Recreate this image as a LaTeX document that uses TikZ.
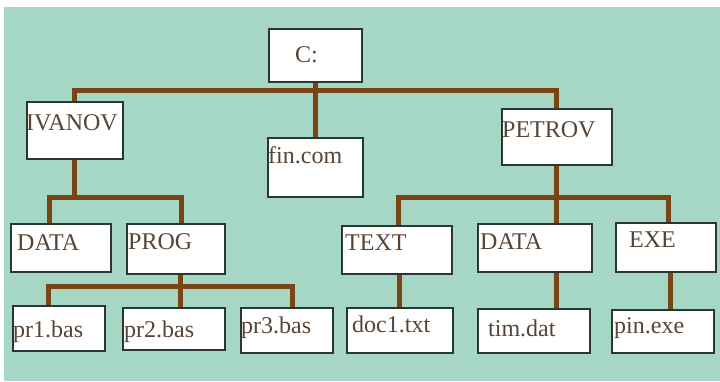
\documentclass[tikz,border=0pt]{standalone}
\usepackage{fontspec}
\setmainfont{Liberation Serif}
\definecolor{bgteal}{RGB}{166,215,197}
\definecolor{linebrown}{RGB}{122,68,20}
\definecolor{boxedge}{RGB}{40,55,50}
\definecolor{txtbrown}{RGB}{88,68,52}
\tikzset{
  box/.style={draw=boxedge, line width=1.8pt, fill=white, rectangle, anchor=north west, inner sep=0pt},
  lbl/.style={anchor=base west, inner sep=0pt, text=txtbrown, font=\fontsize{24}{28}\selectfont},
  conn/.style={draw=linebrown, line width=5pt, line cap=butt, line join=miter}
}
\begin{document}
\begin{tikzpicture}[x=1pt,y=-1pt]
\useasboundingbox (0,0) rectangle (720,381);
\fill[white] (0,0) rectangle (720,381);
\fill[bgteal] (4,7) rectangle (720,381);
% boxes
\node[box, minimum width=93pt, minimum height=53pt] (croot) at (268,28) {};
\node[box, minimum width=96pt, minimum height=57pt] (ivanov) at (26,101) {};
\node[box, minimum width=95pt, minimum height=59pt] (fin) at (267,137) {};
\node[box, minimum width=110pt, minimum height=56pt] (petrov) at (501,108) {};
\node[box, minimum width=100pt, minimum height=48pt] (dataA) at (10,223) {};
\node[box, minimum width=98pt, minimum height=50pt] (prog) at (126,223) {};
\node[box, minimum width=110pt, minimum height=48pt] (txt) at (341,225) {};
\node[box, minimum width=114pt, minimum height=48pt] (dataB) at (477,223) {};
\node[box, minimum width=100pt, minimum height=49pt] (exe) at (615,222) {};
\node[box, minimum width=92pt, minimum height=45pt] (pr1) at (12,305) {};
\node[box, minimum width=102pt, minimum height=42pt] (pr2) at (122,307) {};
\node[box, minimum width=92pt, minimum height=45pt] (pr3) at (240,307) {};
\node[box, minimum width=106pt, minimum height=45pt] (doc1) at (346,307) {};
\node[box, minimum width=112pt, minimum height=44pt] (tim) at (477,308) {};
\node[box, minimum width=102pt, minimum height=43pt] (pin) at (611,309) {};
% labels
\node[lbl] (l-croot) at (295,62) {C:};
\node[lbl] (l-ivanov) at (26,130) {IVANOV};
\node[lbl] (l-fin) at (268,163) {fin.com};
\node[lbl] (l-petrov) at (502,137) {PETROV};
\node[lbl] (l-dataA) at (17,250) {DATA};
\node[lbl] (l-prog) at (128,249) {PROG};
\node[lbl] (l-txt) at (345,250) {TEXT};
\node[lbl] (l-dataB) at (480,249) {DATA};
\node[lbl] (l-exe) at (629,247) {EXE};
\node[lbl] (l-pr1) at (13,337) {pr1.bas};
\node[lbl] (l-pr2) at (124,337) {pr2.bas};
\node[lbl] (l-pr3) at (241,333) {pr3.bas};
\node[lbl] (l-doc1) at (352,332) {doc1.txt};
\node[lbl] (l-tim) at (488,336) {tim.dat};
\node[lbl] (l-pin) at (614,333) {pin.exe};
% connectors
\draw[conn] (ivanov.north) -- ++(0,-11) -| (petrov.north);
\draw[conn] (croot.south) -- (fin.north);
\draw[conn] (ivanov.south) -- ++(0,39);
\draw[conn] ([xshift=-11pt]dataA.north) -- ++(0,-26) -| ([xshift=6pt]prog.north);
\draw[conn] ([xshift=5pt]prog.south) -- ([xshift=5pt]prog.south |- pr2.north);
\draw[conn] ([xshift=-10pt]pr1.north) -- ++(0,-19) -| ([xshift=6pt]pr3.north);
\draw[conn] (petrov.south) -- (petrov.south |- dataB.north);
\draw[conn] ([xshift=2pt]txt.north) -- ++(0,-28) -| ([xshift=3pt]exe.north);
\draw[conn] (doc1.north |- txt.south) -- (doc1.north);
\draw[conn] (petrov.south |- dataB.south) -- (petrov.south |- tim.north);
\draw[conn] ([xshift=5pt]exe.south) -- ([xshift=5pt]exe.south |- pin.north);
\end{tikzpicture}
\end{document}
